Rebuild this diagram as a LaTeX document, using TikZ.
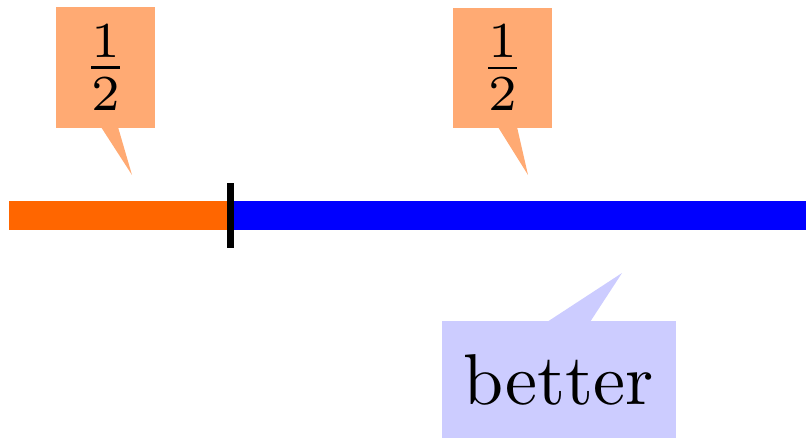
\documentclass[tikz,border=0pt]{standalone}
\definecolor{barorange}{RGB}{255,102,0}
\definecolor{calloutorange}{RGB}{255,170,115}
\definecolor{barblue}{RGB}{0,0,255}
\definecolor{calloutblue}{RGB}{204,204,255}
\begin{document}
\begin{tikzpicture}[x=0.138889pt,y=-0.138889pt,
  fracbox/.style={fill=calloutorange, inner sep=0pt, minimum width=13.75pt, minimum height=16.8pt},
  wordbox/.style={fill=calloutblue, inner sep=0pt, minimum width=32.5pt, minimum height=16.25pt},
  bar/.style={line width=4.03pt},
  tick/.style={line width=0.97pt, black}]
\useasboundingbox (0,0) rectangle (806,440);
% bar
\coordinate (start) at (9,215.5);
\coordinate (mid) at (230,215.5);
\coordinate (stop) at (806,215.5);
\draw[bar, barorange] (start) -- (mid);
\draw[bar, barblue] (mid) -- (stop);
\coordinate (ticktop) at (230.5,183);
\coordinate (tickbot) at (230.5,248);
\draw[tick] (ticktop) -- (tickbot);
% callouts
\node[fracbox] (o1) at (105.5,67.5) {$\frac{1}{2}$};
\coordinate (t1) at (132,175);
\fill[calloutorange] (101,127) -- (t1) -- (118,127) -- cycle;
\node[fracbox] (o2) at (502.5,68) {$\frac{1}{2}$};
\coordinate (t2) at (528,175);
\fill[calloutorange] (498,127) -- (t2) -- (517,127) -- cycle;
\node[wordbox] (b1) at (559,379.5) {better};
\coordinate (t3) at (622,273);
\fill[calloutblue] (547,322) -- (t3) -- (590,322) -- cycle;
\end{tikzpicture}
\end{document}
